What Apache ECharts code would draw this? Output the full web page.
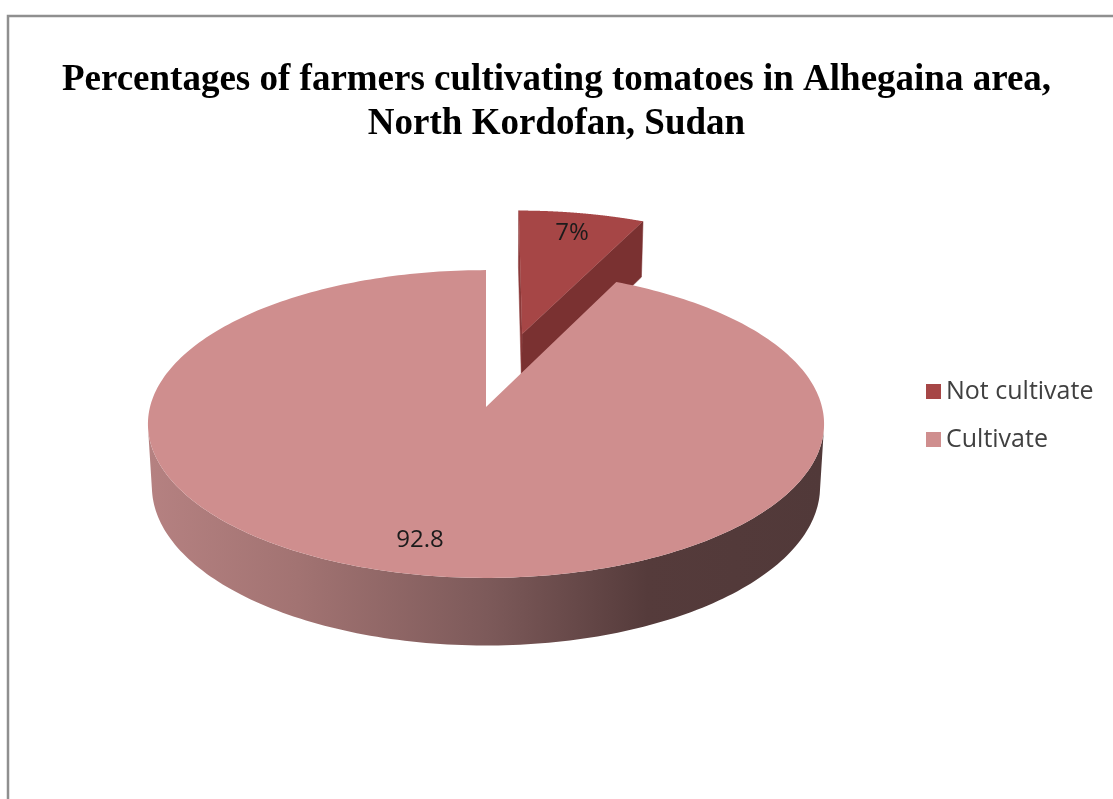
<!DOCTYPE html>
<html><head><meta charset="utf-8">
<script src="https://cdn.jsdelivr.net/npm/echarts/dist/echarts.min.js"></script>
<style>html,body{margin:0;padding:0;background:#fff}#c{width:1113px;height:799px}</style>
</head><body><div id="c"></div>
<script>
// ---- data ----
const categories = ['Not cultivate', 'Cultivate'];
const values = [7, 92.8];
const labelTexts = ['7%', '92.8'];
const titleText = 'Percentages of farmers cultivating tomatoes in Alhegaina area,\nNorth Kordofan, Sudan';

// ---- style ----
const TOP_COLORS = ['#A64646', '#CF8E8E'];
const FACE_COLORS = [['#8A3939', '#7A3131'], ['#B07474', '#A86C6C']];
const EXPLODE = [0.52, 0];
const LABEL_R = 0.82;
const VIEW = {cx: 486, cy: 407, k: 336, alpha: 26.9 * Math.PI / 180, D: 8.07, thick: 0.21};
const WALL_GRAD = {type: 'linear', x: 150, y: 0, x2: 822, y2: 0, global: true,
  colorStops: [
    {offset: 0, color: '#B58181'},
    {offset: 0.22, color: '#A27372'},
    {offset: 0.5, color: '#7D5A5A'},
    {offset: 0.74, color: '#553B3B'},
    {offset: 1, color: '#513939'}
  ]};

function project(X, Y, Z) {
  const ca = Math.cos(VIEW.alpha), sa = Math.sin(VIEW.alpha);
  const yp = Y * ca + Z * sa;
  const zp = -Y * sa + Z * ca;
  const s = VIEW.D / (VIEW.D + zp);
  return [VIEW.cx + VIEW.k * X * s, VIEW.cy - VIEW.k * yp * s];
}

function sliceGeom(i) {
  const total = values.reduce((a, b) => a + b, 0);
  let cum = 0;
  for (let j = 0; j < i; j++) cum += values[j];
  const a0 = 2 * Math.PI * cum / total;
  const a1 = 2 * Math.PI * (cum + values[i]) / total;
  const mid = (a0 + a1) / 2;
  const e = EXPLODE[i];
  return {a0, a1, mid, ox: e * Math.sin(mid), oz: e * Math.cos(mid)};
}

function renderSlice(i) {
  return function (params, api) {
    const g = sliceGeom(i);
    const T = VIEW.thick;
    const P = (r, th, Y) => project(g.ox + r * Math.sin(th), Y, g.oz + r * Math.cos(th));
    const camZ = -VIEW.D * Math.cos(VIEW.alpha);
    const children = [];
    const full = (g.a1 - g.a0) > 2 * Math.PI - 1e-6;
    const N = 300;
    if (!full) {
      const faces = [
        [g.a0, -Math.cos(g.a0), Math.sin(g.a0), FACE_COLORS[i][0]],
        [g.a1, Math.cos(g.a1), -Math.sin(g.a1), FACE_COLORS[i][1]]
      ];
      faces.forEach(([th, nx, nz, col]) => {
        const dot = (0 - g.ox) * nx + (camZ - g.oz) * nz;
        if (dot > 1e-3) {
          children.push({type: 'polygon', shape: {points: [P(0, th, 0), P(1, th, 0), P(1, th, -T), P(0, th, -T)]},
            style: {fill: col, stroke: col, lineWidth: 0.5}});
        }
      });
    }
    let run = [];
    const flush = () => {
      if (run.length > 1) {
        const pts = run.map(th => P(1, th, 0)).concat(run.slice().reverse().map(th => P(1, th, -T)));
        children.push({type: 'polygon', shape: {points: pts}, style: {fill: WALL_GRAD}});
      }
      run = [];
    };
    for (let k = 0; k <= N; k++) {
      const th = g.a0 + (g.a1 - g.a0) * k / N;
      const vis = -g.ox * Math.sin(th) + (camZ - g.oz) * Math.cos(th) - 1 > 0;
      if (vis) run.push(th); else flush();
    }
    flush();
    const top = [];
    if (!full) top.push(P(0, g.a0, 0));
    for (let k = 0; k <= N; k++) top.push(P(1, g.a0 + (g.a1 - g.a0) * k / N, 0));
    children.push({type: 'polygon', shape: {points: top}, style: {fill: TOP_COLORS[i]}});
    const lp = P(LABEL_R, g.mid, 0);
    children.push({type: 'text', style: {text: labelTexts[i], x: lp[0], y: lp[1],
      align: 'center', verticalAlign: 'middle', textAlign: 'center', textVerticalAlign: 'middle',
      fontFamily: 'Open Sans', fontSize: 24, fill: '#1b1b1b'}});
    return {type: 'group', children};
  };
}

const chart = echarts.init(document.getElementById('c'), null, {renderer: 'canvas'});
chart.setOption({
  backgroundColor: '#fff',
  animation: false,
  title: {
    text: titleText, left: 'center', top: 58, padding: 0,
    textStyle: {fontFamily: 'Liberation Serif', fontWeight: 'bold', fontSize: 37, lineHeight: 44, color: '#000'}
  },
  legend: {
    data: categories, orient: 'vertical', left: 921, top: 374,
    icon: 'rect', itemWidth: 15, itemHeight: 15, itemGap: 23,
    textStyle: {fontFamily: 'Open Sans', fontSize: 25, color: '#404040', lineHeight: 25}
  },
  graphic: [{type: 'rect', silent: true, z: -10,
    shape: {x: 8, y: 16, width: 1400, height: 1000},
    style: {fill: 'none', stroke: '#8f8f8f', lineWidth: 2.5}}],
  series: categories.map((name, i) => ({
    type: 'custom', name, coordinateSystem: 'none', z: 2 + i,
    itemStyle: {color: TOP_COLORS[i]},
    data: [values[i]],
    renderItem: renderSlice(i)
  }))
});
</script></body></html>
